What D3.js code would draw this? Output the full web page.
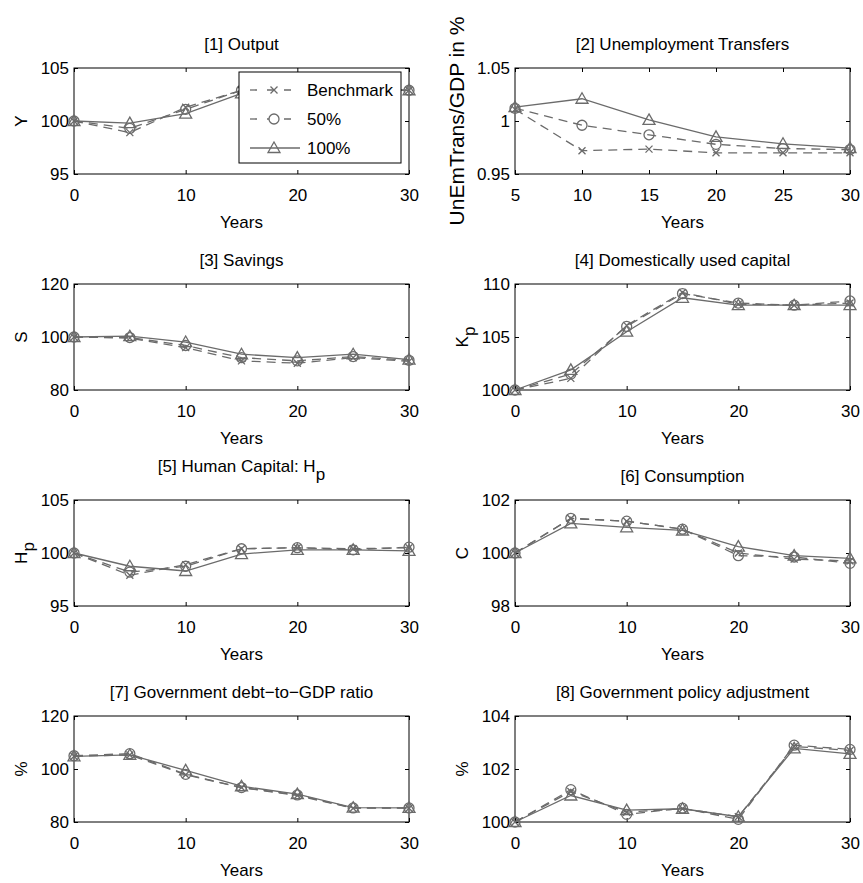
<!DOCTYPE html>
<html>
<head>
<meta charset="utf-8">
<script src="https://cdn.jsdelivr.net/npm/d3@7"></script>
<style>
body { margin: 0; background: #fff; }
text { font-family: "Liberation Sans", Arial, sans-serif; fill: #000; }
</style>
</head>
<body>
<div id="chart"></div>
<script>
// data
var years = [0, 5, 10, 15, 20, 25, 30];
var yearsUnemp = [5, 10, 15, 20, 25, 30];
var seriesNames = ["Benchmark", "50%", "100%"];

var outputBench = [100, 98.9, 101.3, 102.9, 103.1, 103.0, 102.9];
var output50 = [100, 99.3, 101.1, 102.9, 103.0, 103.0, 102.9];
var output100 = [100, 99.8, 100.7, 102.6, 102.9, 102.9, 102.9];

var unempBench = [1.011, 0.972, 0.9735, 0.970, 0.970, 0.970];
var unemp50 = [1.012, 0.996, 0.987, 0.978, 0.974, 0.973];
var unemp100 = [1.013, 1.021, 1.001, 0.985, 0.9785, 0.9745];

var savBench = [100, 99.6, 96.0, 91.0, 90.1, 92.2, 90.8];
var sav50 = [100, 99.8, 96.8, 92.2, 91.0, 92.6, 91.2];
var sav100 = [100, 100.3, 98.1, 93.5, 92.2, 93.5, 91.5];

var capBench = [100, 101.1, 106.1, 109.2, 108.1, 108.0, 108.2];
var cap50 = [100, 101.5, 106.0, 109.1, 108.2, 108.0, 108.4];
var cap100 = [100, 101.9, 105.5, 108.7, 108.0, 108.0, 108.0];

var humBench = [100, 97.9, 98.9, 100.4, 100.5, 100.4, 100.5];
var hum50 = [100, 98.2, 98.75, 100.4, 100.5, 100.3, 100.55];
var hum100 = [100, 98.75, 98.3, 99.9, 100.3, 100.3, 100.2];

var consBench = [100, 101.3, 101.2, 100.9, 100.0, 99.77, 99.7];
var cons50 = [100, 101.31, 101.2, 100.9, 99.9, 99.85, 99.61];
var cons100 = [100, 101.12, 100.97, 100.85, 100.24, 99.9, 99.8];

var debtBench = [104.8, 105.3, 97.8, 93.0, 90.0, 85.2, 85.2];
var debt50 = [105.0, 105.8, 98.0, 93.0, 90.2, 85.3, 85.3];
var debt100 = [104.8, 105.3, 99.5, 93.5, 90.5, 85.4, 85.3];

var polBench = [100, 101.15, 100.37, 100.5, 100.2, 102.85, 102.7];
var pol50 = [100, 101.22, 100.29, 100.52, 100.1, 102.9, 102.74];
var pol100 = [100, 101.0, 100.45, 100.5, 100.2, 102.78, 102.57];

var titles = ["[1] Output", "[2] Unemployment Transfers", "[3] Savings", "[4] Domestically used capital",
              "[5] Human Capital: H_p", "[6] Consumption", "[7] Government debt\u2212to\u2212GDP ratio", "[8] Government policy adjustment"];
var yLabels = ["Y", "UnEmTrans/GDP in %", "S", "K_p", "H_p", "C", "%", "%"];
var yTicks = [[95, 100, 105], [0.95, 1, 1.05], [80, 100, 120], [100, 105, 110],
              [95, 100, 105], [98, 100, 102], [80, 100, 120], [100, 102, 104]];
var xTicks = [0, 10, 20, 30];
var xTicksUnemp = [5, 10, 15, 20, 25, 30];

var panels = [
  {x: years, xt: xTicks, s: [outputBench, output50, output100]},
  {x: yearsUnemp, xt: xTicksUnemp, s: [unempBench, unemp50, unemp100]},
  {x: years, xt: xTicks, s: [savBench, sav50, sav100]},
  {x: years, xt: xTicks, s: [capBench, cap50, cap100]},
  {x: years, xt: xTicks, s: [humBench, hum50, hum100]},
  {x: years, xt: xTicks, s: [consBench, cons50, cons100]},
  {x: years, xt: xTicks, s: [debtBench, debt50, debt100]},
  {x: years, xt: xTicks, s: [polBench, pol50, pol100]}
];

// layout
var W = 863, H = 883;
var colLeft = [74, 515], plotW = 335, plotH = 106;
var rowTop = [68, 284, 500, 716];
var grey = "#6b6b6b";
var styles = [
  {dash: "9,6", marker: "x"},
  {dash: "9,6", marker: "o"},
  {dash: null, marker: "^"}
];
var labelSize = [17, 21, 17, 17, 17, 17, 17, 17];

var svg = d3.select("#chart").append("svg")
    .attr("width", W)
    .attr("height", H);

function markerPath(type, x, y) {
  if (type == "x") {
    var r = 3.5;
    return "M" + (x - r) + "," + (y - r) + "L" + (x + r) + "," + (y + r) +
           "M" + (x - r) + "," + (y + r) + "L" + (x + r) + "," + (y - r);
  }
  if (type == "^") {
    return "M" + x + "," + (y - 6) + "L" + (x + 6) + "," + (y + 4.5) + "L" + (x - 6) + "," + (y + 4.5) + "Z";
  }
  return "M" + (x - 5) + "," + y + "a5,5 0 1,0 10,0a5,5 0 1,0 -10,0";
}

// text with "_x" subscript
function addLabel(sel, str) {
  var parts = str.split("_");
  sel.append("tspan").text(parts[0]);
  if (parts.length > 1) {
    sel.append("tspan").attr("dy", "0.45em").text(parts[1]);
  }
}

panels.forEach(function(p, i) {
  var col = i % 2, row = Math.floor(i / 2);
  var left = colLeft[col], top = rowTop[row];
  var g = svg.append("g").attr("transform", "translate(" + left + "," + top + ")");

  var x = d3.scaleLinear().domain(d3.extent(p.xt)).range([0, plotW]);
  var y = d3.scaleLinear().domain(d3.extent(yTicks[i])).range([plotH, 0]);

  // axes, inner ticks on all four sides
  var xb = g.append("g").attr("transform", "translate(0," + plotH + ")")
      .call(d3.axisBottom(x).tickValues(p.xt).tickSize(-4).tickFormat(d => String(d)));
  xb.selectAll("text").attr("y", 27).attr("dy", null);
  g.append("g").call(d3.axisTop(x).tickValues(p.xt).tickSize(-4).tickFormat(""));
  var yl = g.append("g")
      .call(d3.axisLeft(y).tickValues(yTicks[i]).tickSize(-4).tickPadding(5).tickFormat(d => String(d)));
  g.append("g").attr("transform", "translate(" + plotW + ",0)")
      .call(d3.axisRight(y).tickValues(yTicks[i]).tickSize(-4).tickFormat(""));
  g.selectAll(".domain").remove();
  g.selectAll(".tick line").attr("stroke", "#000");
  g.selectAll(".tick text").attr("font-size", 17).attr("font-family", "Liberation Sans, Arial, sans-serif");

  g.append("rect")
    .attr("x", 0).attr("y", 0).attr("width", plotW).attr("height", plotH)
    .attr("fill", "none").attr("stroke", "#000").attr("stroke-width", 1);

  var maxW = 0;
  yl.selectAll("text").each(function() { maxW = Math.max(maxW, this.getComputedTextLength()); });

  // series
  p.s.forEach(function(vals, k) {
    var line = d3.line().x((d, j) => x(p.x[j])).y(d => y(d));
    g.append("path")
      .attr("d", line(vals))
      .attr("fill", "none")
      .attr("stroke", grey)
      .attr("stroke-width", 1.3)
      .attr("stroke-dasharray", styles[k].dash);
    g.selectAll(".m" + k).data(vals).enter()
      .append("path")
      .attr("class", "m" + k)
      .attr("d", (d, j) => markerPath(styles[k].marker, x(p.x[j]), y(d)))
      .attr("fill", "none")
      .attr("stroke", grey)
      .attr("stroke-width", 1.3);
  });

  // title
  var t = g.append("text")
    .attr("x", plotW / 2)
    .attr("y", titles[i].indexOf("_") >= 0 ? -28 : -18)
    .attr("text-anchor", "middle")
    .attr("font-size", 17);
  addLabel(t, titles[i]);

  // x label
  g.append("text")
    .attr("x", plotW / 2)
    .attr("y", plotH + 54)
    .attr("text-anchor", "middle")
    .attr("font-size", 17)
    .text("Years");

  // y label
  var lab = g.append("text")
    .attr("transform", "translate(" + (-maxW - 25) + "," + (plotH / 2) + ") rotate(-90)")
    .attr("dy", "0.35em")
    .attr("text-anchor", "middle")
    .attr("font-size", labelSize[i]);
  addLabel(lab, yLabels[i]);

  // legend in first panel
  if (i == 0) {
    var lg = svg.append("g").attr("transform", "translate(239,72)");
    lg.append("rect")
      .attr("width", 162).attr("height", 91)
      .attr("fill", "#fff").attr("stroke", "#000").attr("stroke-width", 1);
    seriesNames.forEach(function(name, k) {
      var yy = 18 + k * 29;
      lg.append("line")
        .attr("x1", 11).attr("x2", 61).attr("y1", yy).attr("y2", yy)
        .attr("stroke", grey).attr("stroke-width", 1.3)
        .attr("stroke-dasharray", styles[k].dash ? "7,10" : null);
      lg.append("path")
        .attr("d", markerPath(styles[k].marker, 35, yy))
        .attr("fill", styles[k].dash ? "#fff" : "none")
        .attr("stroke", grey).attr("stroke-width", 1.3);
      lg.append("text")
        .attr("x", 68).attr("y", yy).attr("dy", "0.35em")
        .attr("font-size", 17)
        .text(name);
    });
  }
});
</script>
</body>
</html>
